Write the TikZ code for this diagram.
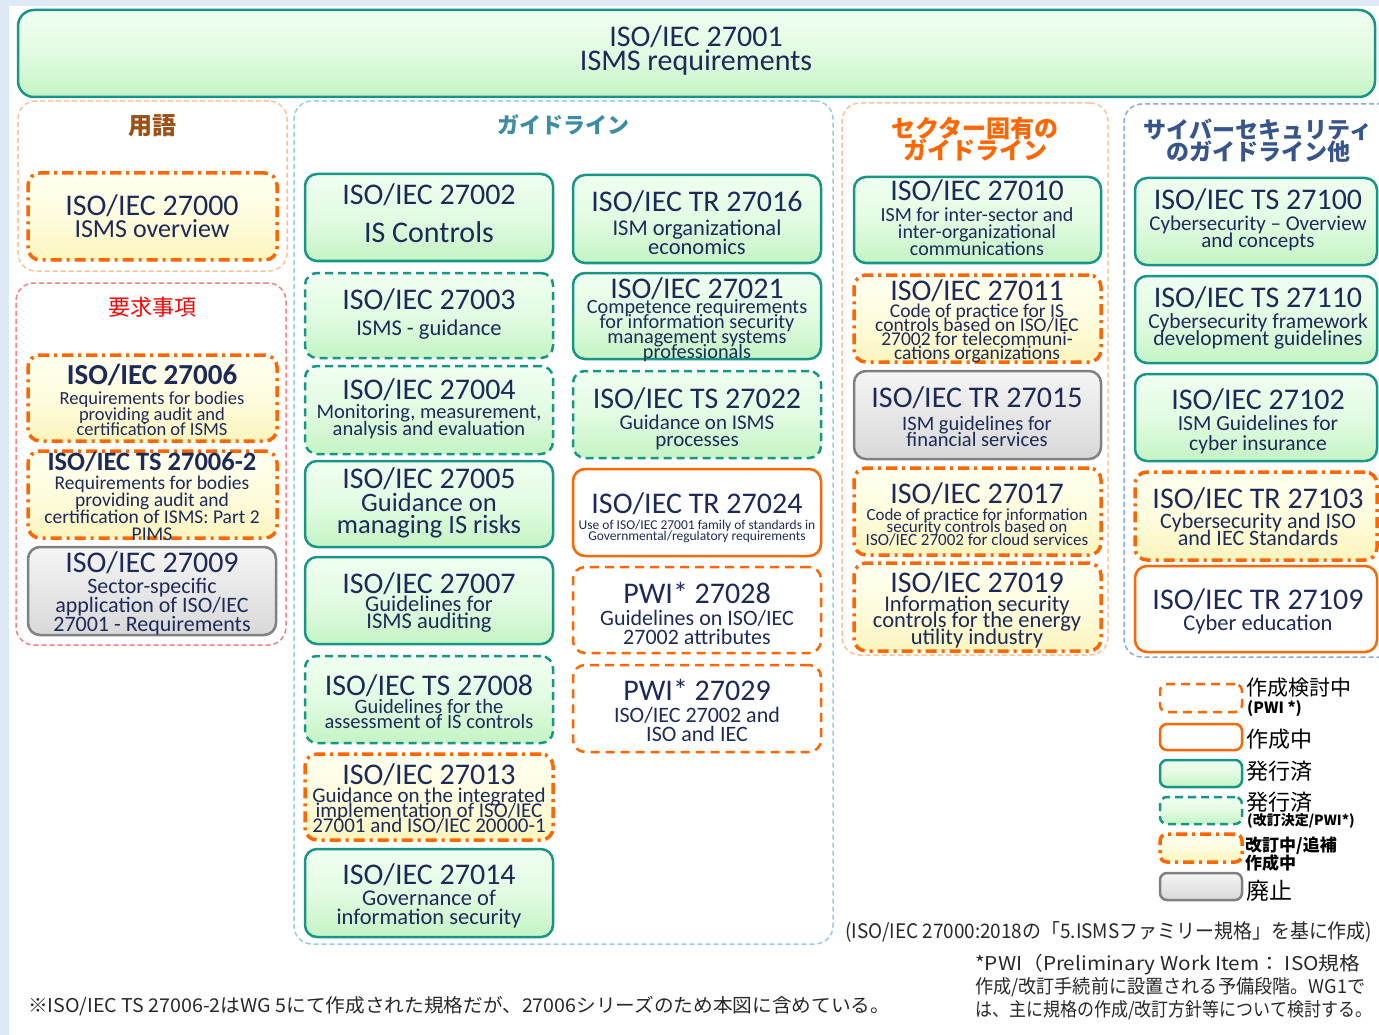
\documentclass[tikz,border=0pt]{standalone}
\usepackage{fontspec}
\usepackage{graphicx}
\setmainfont{Carlito}
\newfontfamily\jp{Noto Sans CJK JP}
\definecolor{teal1}{RGB}{23,150,136}
\definecolor{orng}{RGB}{255,102,0}
\definecolor{navy}{RGB}{28,42,90}
\definecolor{gA}{RGB}{240,255,240}
\definecolor{gM}{RGB}{226,251,226}
\definecolor{gB}{RGB}{196,244,196}
\definecolor{yA}{RGB}{255,255,240}
\definecolor{yM}{RGB}{254,252,222}
\definecolor{yB}{RGB}{251,245,190}
\definecolor{grA}{RGB}{245,245,245}
\definecolor{grB}{RGB}{216,216,216}
\definecolor{grBorder}{RGB}{128,128,128}
\definecolor{bgblue}{RGB}{222,233,245}
\definecolor{cOr}{RGB}{250,195,150}
\definecolor{cRed}{RGB}{245,130,130}
\definecolor{cBlue}{RGB}{150,205,225}
\definecolor{cSlate}{RGB}{140,170,210}
\definecolor{hBrown}{RGB}{156,80,20}
\definecolor{hTeal}{RGB}{60,140,165}
\definecolor{hBlue}{RGB}{55,85,140}
\definecolor{noteC}{RGB}{40,40,40}
\tikzset{
  box/.style={rectangle, rounded corners=12pt, inner sep=0pt},
  pub/.style={box, draw=teal1, line width=2.5pt, top color=gA, bottom color=gB, middle color=gM},
  pubrev/.style={pub, dash pattern=on 8pt off 5pt},
  rev/.style={box, draw=orng, line width=3.5pt, dash pattern=on 11pt off 5pt on 3pt off 5pt, top color=yA, bottom color=yB, middle color=yM},
  dev/.style={box, draw=orng, line width=2.5pt, fill=white},
  pwi/.style={dev, dash pattern=on 9pt off 6pt},
  wd/.style={box, draw=grBorder, line width=2.5pt, top color=grA, bottom color=grB},
  grp/.style={rectangle, rounded corners=18pt, line width=1.5pt, dash pattern=on 5pt off 3pt, inner sep=0pt},
  ttlf/.style={inner sep=0pt, text=navy},
  hdr/.style={inner sep=0pt, align=center},
  leg/.style={inner sep=0pt, anchor=west, text=black},
  note/.style={inner sep=0pt, anchor=west, text=noteC}
}
\newcommand\bx[6]{\node[#2, minimum width={#5-#3}, minimum height={#6-#4}] (#1) at ({(#3+#5)/2},{(#4+#6)/2}) {};}
\newcommand\ttl[5]{\node[ttlf, font=\fontsize{#4}{#4}\selectfont] (#1) at (#2,#3) {#5};}
\newcommand\sbt[6]{\node[ttlf, align=center, font={\fontsize{#4}{#5}\selectfont\lineskiplimit=-100pt\lineskip=0pt}] (#1) at (#2,#3) {#6};}
\begin{document}
\begin{tikzpicture}[x=1pt,y=-1pt]
\useasboundingbox (0,0) rectangle (1379,1035);
\fill[white] (0,0) rectangle (1379,1035);
\fill[bgblue] (0,0) rectangle (1379,6);
\fill[bgblue] (0,0) rectangle (9,1035);

% top box
\bx{b27001}{pub, rounded corners=16pt}{18}{10}{1375}{97}
\ttl{t27001}{696}{37}{30}{ISO/IEC 27001}
\ttl{s27001}{696}{63}{30}{ISMS requirements}

% groups
\bx{gTerm}{grp, draw=cOr}{18}{101}{287}{271}
\bx{gReq}{grp, draw=cRed}{16}{283}{286}{645}
\bx{gGuide}{grp, draw=cBlue}{294}{101}{833}{944}
\bx{gSector}{grp, draw=cOr}{842}{103}{1108}{655}
\bx{gCyber}{grp, draw=cSlate}{1124}{104}{1400}{657}

\node[hdr, text=hBrown, font=\jp\bfseries\fontsize{24}{24}\selectfont] (hTerm) at (152,126) {用語};
\node[hdr, text=red, font=\jp\fontsize{22}{22}\selectfont] (hReq) at (152,307) {要求事項};
\node[hdr, text=hTeal, font=\jp\bfseries\fontsize{22}{22}\selectfont] (hGuide) at (563,125) {ガイドライン};
\node[hdr, text=orng, font={\jp\bfseries\fontsize{24}{22}\selectfont\lineskiplimit=-100pt}] (hSector) at (975,139) {セクター固有の\\ガイドライン};
\node[hdr, text=hBlue, font={\jp\bfseries\fontsize{23}{22}\selectfont\lineskiplimit=-100pt}] (hCyber) at (1258,141) {サイバーセキュリティ\\のガイドライン他};

% column 1
\bx{b27000}{rev}{28}{173}{277}{260}
\ttl{t27000}{152}{206}{30}{ISO/IEC 27000}
\ttl{s27000}{152}{229}{26}{ISMS overview}

\bx{b27006}{rev}{28}{355}{277}{441}
\ttl{t27006}{152}{375}{29}{\bfseries ISO/IEC 27006}
\sbt{s27006}{152}{414}{18.5}{15.5}{Requirements for bodies\\providing audit and\\certification of ISMS}

\bx{b27006b}{rev}{28}{451}{277}{538}
\ttl{t27006b}{152}{462}{26.5}{\bfseries ISO/IEC TS 27006-2}
\sbt{s27006b}{152}{508}{19.5}{17}{Requirements for bodies\\providing audit and\\certification of ISMS: Part 2\\PIMS}

\bx{b27009}{wd}{28}{547}{276}{635}
\ttl{t27009}{152}{563}{30}{ISO/IEC 27009}
\sbt{s27009}{152}{607}{22}{19}{Sector-specific\\application of ISO/IEC\\27001 - Requirements}

% column 2
\bx{b27002}{pub}{305}{174}{553}{261}
\ttl{t27002}{429}{195}{30}{ISO/IEC 27002}
\ttl{s27002}{429}{232}{30}{IS Controls}

\bx{b27003}{pubrev}{305}{273}{553}{358}
\ttl{t27003}{429}{300}{30}{ISO/IEC 27003}
\ttl{s27003}{429}{330}{22.5}{ISMS - guidance}

\bx{b27004}{pubrev}{305}{366}{553}{454}
\ttl{t27004}{429}{390}{30}{ISO/IEC 27004}
\sbt{s27004}{429}{422}{20.5}{17}{Monitoring, measurement,\\analysis and evaluation}

\bx{b27005}{pub}{305}{461}{553}{547}
\ttl{t27005}{429}{479}{30}{ISO/IEC 27005}
\sbt{s27005}{429}{516}{26.5}{22}{Guidance on\\managing IS risks}

\bx{b27007}{pub}{305}{557}{553}{644}
\ttl{t27007}{429}{584}{30}{ISO/IEC 27007}
\sbt{s27007}{429}{614}{22.5}{17}{Guidelines for\\ISMS auditing}

\bx{b27008}{pubrev}{305}{656}{553}{743}
\ttl{t27008}{429}{686}{30}{ISO/IEC TS 27008}
\sbt{s27008}{429}{714}{20.5}{15}{Guidelines for the\\assessment of IS controls}

\bx{b27013}{rev}{305}{754}{553}{840}
\ttl{t27013}{429}{775}{30}{ISO/IEC 27013}
\sbt{s27013}{429}{811}{21}{15}{Guidance on the integrated\\implementation of ISO/IEC\\27001 and ISO/IEC 20000-1}

\bx{b27014}{pub}{305}{849}{553}{937}
\ttl{t27014}{429}{875}{30}{ISO/IEC 27014}
\sbt{s27014}{429}{909}{22.5}{19}{Governance of\\information security}

% column 3
\bx{b27016}{pub}{573}{175}{821}{263}
\ttl{t27016}{697}{202}{30}{ISO/IEC TR 27016}
\sbt{s27016}{697}{237}{22.5}{19}{ISM organizational\\economics}

\bx{b27021}{pub}{573}{273}{821}{359}
\ttl{t27021}{697}{289}{30}{ISO/IEC 27021}
\sbt{s27021}{697}{331}{20.3}{15}{Competence requirements\\for information security\\management systems\\professionals}

\bx{b27022}{pubrev}{573}{371}{821}{458}
\ttl{t27022}{697}{399}{30}{ISO/IEC TS 27022}
\sbt{s27022}{697}{432}{21}{17}{Guidance on ISMS\\processes}

\bx{b27024}{dev}{573}{469}{821}{556}
\ttl{t27024}{697}{504}{30}{ISO/IEC TR 27024}
\sbt{s27024}{697}{531}{13.5}{11}{Use of ISO/IEC 27001 family of standards in\\Governmental/regulatory requirements}

\bx{b27028}{pwi}{573}{567}{821}{653}
\ttl{t27028}{697}{593}{30}{PWI* 27028}
\sbt{s27028}{697}{627}{22}{19}{Guidelines on ISO/IEC\\27002 attributes}

\bx{b27029}{pwi}{573}{665}{821}{752}
\ttl{t27029}{697}{690}{30}{PWI* 27029}
\sbt{s27029}{697}{724}{22}{19}{ISO/IEC 27002 and\\ISO and IEC}

% column 4
\bx{b27010}{pub}{854}{177}{1101}{263}
\ttl{t27010}{977}{191}{30}{ISO/IEC 27010}
\sbt{s27010}{977}{232}{20}{17}{ISM for inter-sector and\\inter-organizational\\communications}

\bx{b27011}{rev}{854}{275}{1101}{362}
\ttl{t27011}{977}{291}{30}{ISO/IEC 27011}
\sbt{s27011}{977}{333}{19.5}{14}{Code of practice for IS\\controls based on ISO/IEC\\27002 for telecommuni-\\cations organizations}

\bx{b27015}{wd}{854}{371}{1101}{459}
\ttl{t27015}{977}{398}{30}{ISO/IEC TR 27015}
\sbt{s27015}{977}{431}{20.5}{16}{ISM guidelines for\\financial services}

\bx{b27017}{rev}{854}{468}{1101}{555}
\ttl{t27017}{977}{494}{30}{ISO/IEC 27017}
\sbt{s27017}{977}{527}{17}{12.5}{Code of practice for information\\security controls based on\\ISO/IEC 27002 for cloud services}

\bx{b27019}{rev}{854}{563}{1101}{651}
\ttl{t27019}{977}{583}{30}{ISO/IEC 27019}
\sbt{s27019}{977}{622}{22.5}{16.5}{Information security\\controls for the energy\\utility industry}

% column 5
\bx{b27100}{pub}{1135}{178}{1377}{265}
\ttl{t27100}{1258}{200}{30}{ISO/IEC TS 27100}
\sbt{s27100}{1258}{233}{21}{17}{Cybersecurity \textendash{} Overview\\and concepts}

\bx{b27110}{pub}{1135}{276}{1377}{363}
\ttl{t27110}{1258}{298}{30}{ISO/IEC TS 27110}
\sbt{s27110}{1258}{331}{21.5}{17}{Cybersecurity framework\\development guidelines}

\bx{b27102}{pub}{1135}{374}{1377}{461}
\ttl{t27102}{1258}{400}{30}{ISO/IEC 27102}
\sbt{s27102}{1258}{435}{21.5}{20}{ISM Guidelines for\\cyber insurance}

\bx{b27103}{rev}{1135}{472}{1377}{560}
\ttl{t27103}{1258}{499}{30}{ISO/IEC TR 27103}
\sbt{s27103}{1258}{529}{22}{17}{Cybersecurity and ISO\\and IEC Standards}

\bx{b27109}{dev}{1135}{566}{1377}{652}
\ttl{t27109}{1258}{600}{30}{ISO/IEC TR 27109}
\ttl{s27109}{1258}{624}{22.5}{Cyber education}

% legend
\bx{l1}{pwi, rounded corners=7pt}{1160}{684}{1242}{712}
\bx{l2}{dev, rounded corners=7pt}{1160}{724}{1242}{750}
\bx{l3}{pub, rounded corners=7pt}{1160}{760}{1242}{787}
\bx{l4}{pubrev, rounded corners=7pt}{1160}{797}{1242}{824}
\bx{l5}{rev, rounded corners=7pt}{1160}{834}{1242}{862}
\bx{l6}{wd, rounded corners=7pt}{1160}{873}{1242}{900}
\node[leg, font=\jp\fontsize{21}{21}\selectfont] (lt1) at (1246,688) {作成検討中};
\node[leg, font=\jp\bfseries\fontsize{15.5}{15.5}\selectfont] (lt1b) at (1247,709) {(PWI *)};
\node[leg, font=\jp\fontsize{22}{22}\selectfont] (lt2) at (1246,739) {作成中};
\node[leg, font=\jp\fontsize{22}{22}\selectfont] (lt3) at (1246,771) {発行済};
\node[leg, font=\jp\fontsize{22}{22}\selectfont] (lt4) at (1246,802) {発行済};
\node[leg, font=\jp\bfseries\fontsize{14}{14}\selectfont] (lt4b) at (1247,821) {(改訂決定/PWI*)};
\node[leg, font=\jp\bfseries\fontsize{17}{17}\selectfont] (lt5) at (1245,846) {改訂中/追補};
\node[leg, font=\jp\bfseries\fontsize{17}{17}\selectfont] (lt5b) at (1245,863) {作成中};
\node[leg, font=\jp\fontsize{23}{23}\selectfont] (lt6) at (1246,891) {廃止};

% notes
\node[note, font=\jp\fontsize{20}{20}\selectfont] (n1) at (845,932) {\resizebox{527pt}{\height}{(ISO/IEC 27000:2018の「5.ISMSファミリー規格」を基に作成)}};
\node[note, font=\jp\fontsize{19}{19}\selectfont] (n2a) at (975,965) {\resizebox{385pt}{\height}{*PWI（Preliminary Work Item： ISO規格}};
\node[note, font=\jp\fontsize{19}{19}\selectfont] (n2b) at (975,987) {\resizebox{390pt}{\height}{作成/改訂手続前に設置される予備段階。WG1で}};
\node[note, font=\jp\fontsize{19}{19}\selectfont] (n2c) at (975,1010) {\resizebox{397pt}{\height}{は、主に規格の作成/改訂方針等について検討する。}};
\node[note, font=\jp\fontsize{19}{19}\selectfont] (n3) at (28,1006) {\resizebox{862pt}{\height}{※ISO/IEC TS 27006-2はWG 5にて作成された規格だが、27006シリーズのため本図に含めている。}};
\end{tikzpicture}
\end{document}
